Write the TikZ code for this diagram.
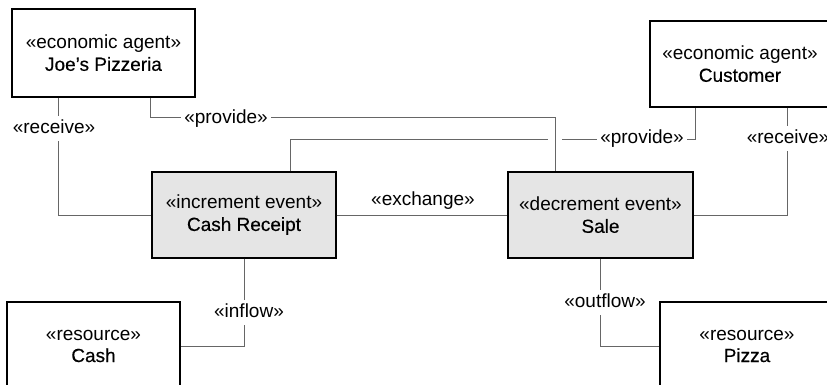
\documentclass[tikz,border=0pt]{standalone}
\usepackage{fontspec}
\setmainfont{Liberation Sans}
\newfontfamily\namefont{Liberation Sans}[FakeBold=0.35]
\usetikzlibrary{positioning}

\begin{document}
\begin{tikzpicture}[x=1pt,y=-1pt,
    box/.style={draw=black, line width=1.2pt, align=center, inner sep=0pt,
        minimum height=86pt, font=\fontsize{19}{22}\selectfont},
    event/.style={box, fill=black!10},
    conn/.style={draw=black!60, line width=1pt},
    lbl/.style={fill=white, inner sep=3.5pt, text height=14pt, text depth=4pt,
        font=\fontsize{19}{22}\selectfont}]

\useasboundingbox (0,0) rectangle (827,384);
\clip (0,0) rectangle (827,384);

% agents, events and resources
\node[box, minimum width=183pt, minimum height=88pt] (joe) at (103.5,53) {«economic agent»\\\namefont Joe’s Pizzeria};
\node[box, minimum width=180pt] (customer) at (740,64) {«economic agent»\\\namefont Customer};
\node[event, minimum width=184pt] (receipt) at (244,215) {«increment event»\\\namefont Cash Receipt};
\node[event, minimum width=185pt] (sale) at (600.5,215) {«decrement event»\\\namefont Sale};
\node[box, minimum width=173pt, minimum height=88pt] (cash) at (93.5,346) {«resource»\\\namefont Cash};
\node[box, minimum width=174pt, minimum height=88pt] (pizza) at (747,346) {«resource»\\\namefont Pizza};

% bend points
\coordinate (jr) at (58,0);
\coordinate (jp) at (150,117);
\coordinate (sp) at (555,117);
\coordinate (cp) at (290,139);
\coordinate (cq) at (695,139);
\coordinate (cr) at (787,0);

\draw[conn] (joe.south -| jr) |- (receipt.west);
\draw[conn] (joe.south -| jp) |- (sp) -- (sp |- sale.north);
\draw[conn] (receipt.north -| cp) |- ([xshift=-7pt]cp -| sp);
\draw[conn] ([xshift=7pt]cp -| sp) -- (cq) -- (cq |- customer.south);
\draw[conn] (customer.south -| cr) |- (sale.east);
\draw[conn] (receipt) -- (sale);
\draw[conn] (receipt.south) |- (cash.east);
\draw[conn] (sale.south) |- (pizza.west);

\node[lbl] (rcvjoe) at (54,128) {«receive»};
\node[lbl] (prvjoe) at (226,118) {«provide»};
\node[lbl] (prvcust) at (642,138) {«provide»};
\node[lbl] (rcvcust) at (788,138) {«receive»};
\node[lbl] (exch) at (423,200) {«exchange»};
\node[lbl] (infl) at (249,312) {«inflow»};
\node[lbl] (outfl) at (605,302) {«outflow»};
\end{tikzpicture}
\end{document}
